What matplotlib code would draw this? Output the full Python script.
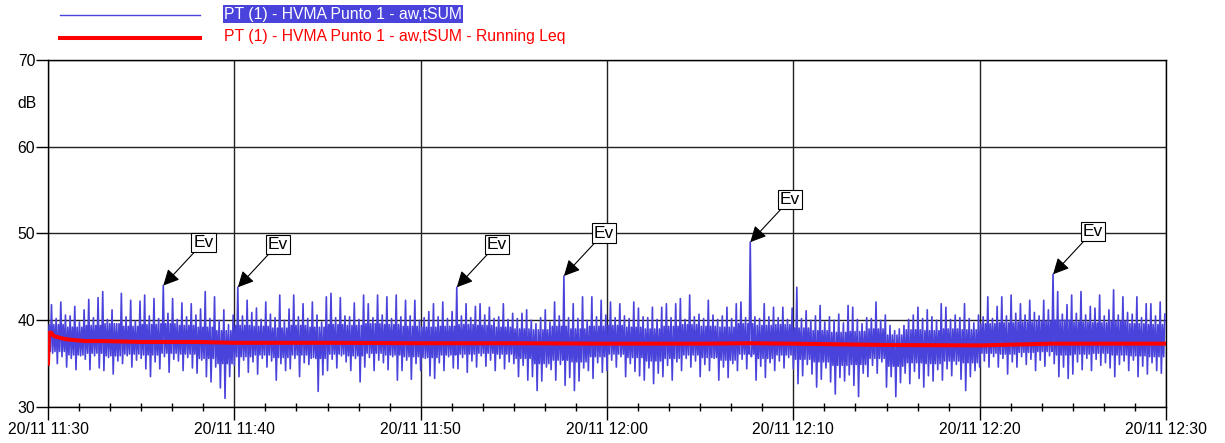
import matplotlib
matplotlib.use("Agg")
import matplotlib.pyplot as plt
from matplotlib.lines import Line2D
from matplotlib.ticker import MultipleLocator, FuncFormatter
import numpy as np

plt.rcParams['font.family'] = ['Liberation Sans', 'DejaVu Sans']

# aw,tSUM peaks (dB), 4 per minute from 11:30, one row per minute
highs = [
    41.8, 40.2, 42.1, 40.6,  40.5, 41.6, 39.8, 41.2,  42.4, 40.3, 42.6, 43.3,
    40.1, 41.2, 39.6, 43.1,  40.4, 42.3, 39.9, 42.2,  42.9, 40.5, 42.5, 40.2,
    44.0, 40.8, 42.5, 40.1,  42.0, 40.4, 41.9, 40.6,  41.3, 43.3, 40.2, 42.7,
    40.0, 41.2, 39.5, 40.6,  43.8, 40.5, 42.3, 40.9,  41.4, 40.1, 42.1, 40.7,
    40.3, 42.9, 40.0, 41.3,  42.9, 40.4, 41.9, 40.2,  42.1, 40.6, 39.8, 42.7,
    43.1, 40.3, 42.6, 40.5,  40.4, 42.0, 40.1, 42.9,  41.9, 40.3, 42.9, 40.6,
    42.7, 40.2, 42.9, 40.4,  42.3, 40.5, 42.3, 40.0,  40.3, 41.0, 41.9, 40.4,
    42.1, 40.2, 41.0, 43.8,  40.5, 41.9, 40.3, 41.6,  41.9, 40.6, 41.5, 40.2,
    40.4, 41.9, 40.1, 40.8,  40.2, 40.8, 41.2, 40.0,  39.6, 40.3, 41.2, 39.8,
    42.1, 40.5, 45.1, 40.3,  41.9, 40.2, 42.7, 40.0,  42.7, 40.4, 42.3, 40.6,
    42.1, 40.3, 41.9, 40.5,  40.2, 42.1, 41.4, 40.4,  40.3, 41.5, 40.1, 41.5,
    41.9, 40.3, 41.9, 42.5,  40.1, 42.9, 40.4, 40.7,  40.2, 42.3, 40.6, 40.1,
    40.5, 41.5, 40.2, 41.9,  42.1, 40.3, 49.0, 40.4,  40.2, 41.9, 40.4, 41.5,
    40.3, 41.5, 40.1, 41.4,  43.8, 40.2, 41.1, 40.0,  40.5, 41.7, 39.8, 40.4,
    40.0, 40.7, 39.7, 41.7,  41.5, 40.1, 39.6, 40.3,  40.2, 42.1, 40.0, 40.6,
    39.4, 38.8, 39.0, 39.4,  40.1, 40.6, 41.5, 40.2,  41.2, 40.4, 40.0, 41.9,
    41.5, 40.1, 40.6, 40.3,  41.9, 40.2, 39.7, 40.6,  40.4, 42.7, 40.2, 41.6,
    42.7, 40.5, 42.9, 40.8,  41.9, 40.6, 42.3, 40.9,  40.5, 42.3, 41.2, 45.3,
    43.3, 40.7, 41.8, 42.9,  40.8, 43.3, 40.6, 41.6,  41.4, 42.9, 40.5, 41.2,
    43.5, 40.6, 42.7, 40.9,  40.7, 42.7, 40.3, 41.9,  41.9, 40.5, 42.1, 40.7,
]
# aw,tSUM troughs (dB), same grid
lows = [
    35.4, 36.2, 35.0, 35.8,  34.6, 35.6, 34.3, 35.9,  35.5, 34.3, 35.9, 34.5,
    34.2, 35.7, 33.8, 35.3,  35.0, 35.9, 34.6, 35.4,  35.6, 34.4, 33.5, 35.2,
    34.4, 35.8, 34.0, 35.5,  35.3, 34.2, 35.7, 34.5,  33.9, 35.4, 33.5, 32.9,
    34.6, 32.2, 31.0, 33.5,  34.8, 33.5, 35.4, 34.0,  35.2, 33.8, 35.6, 34.6,
    35.3, 33.1, 35.0, 34.2,  34.4, 35.6, 33.5, 35.1,  34.9, 35.7, 31.8, 33.7,
    34.2, 35.5, 34.5, 35.9,  35.2, 34.2, 35.6, 32.9,  34.6, 35.7, 34.2, 35.4,
    35.1, 34.3, 35.8, 33.1,  34.2, 35.4, 33.2, 35.0,  34.2, 35.6, 33.6, 33.3,
    35.1, 34.2, 35.8, 34.5,  34.4, 35.7, 34.0, 35.3,  34.6, 35.9, 34.7, 35.4,
    34.2, 35.6, 34.4, 35.2,  35.0, 33.5, 34.8, 33.1,  33.5, 31.9, 33.0, 34.6,
    34.3, 33.1, 34.9, 32.5,  33.4, 31.9, 33.0, 34.5,  34.2, 33.3, 35.1, 34.0,
    34.2, 35.4, 34.6, 35.8,  33.5, 35.0, 34.1, 33.6,  33.1, 34.5, 32.7, 33.9,
    33.5, 34.8, 33.1, 35.2,  34.2, 35.6, 34.6, 35.3,  33.5, 34.9, 34.2, 35.6,
    33.1, 34.6, 33.4, 35.0,  34.2, 35.5, 34.4, 35.8,  33.1, 34.7, 33.4, 35.1,
    34.2, 35.3, 34.5, 35.7,  34.4, 32.7, 33.6, 34.9,  33.8, 32.3, 33.2, 34.5,
    32.9, 31.5, 33.4, 33.0,  33.7, 32.5, 31.2, 33.9,  33.5, 34.8, 33.9, 35.2,
    32.3, 33.5, 31.2, 32.8,  33.9, 32.7, 34.1, 33.3,  32.3, 33.6, 33.0, 34.3,
    33.1, 34.4, 33.6, 34.9,  33.2, 31.9, 33.5, 34.2,  34.6, 35.3, 34.6, 35.8,
    34.6, 35.6, 33.8, 35.2,  34.6, 35.8, 34.9, 35.5,  34.2, 35.4, 34.7, 35.9,
    35.0, 33.5, 34.6, 33.3,  33.8, 35.2, 34.3, 35.6,  34.2, 35.5, 34.8, 35.1,
    34.5, 33.5, 34.9, 35.3,  34.2, 35.4, 33.5, 34.7,  33.8, 35.1, 34.2, 33.9,
]
# top and bottom of the dense band, one value per minute
body_top = [
    39.5, 39.2, 39.4, 39.6, 39.3, 39.5, 39.6, 39.4, 39.2, 38.8,
    39.4, 39.3, 39.1, 39.4, 39.2, 39.5, 39.4, 39.6, 39.5, 39.3,
    39.2, 39.3, 39.5, 39.4, 39.2, 39.0, 38.9, 39.3, 39.0, 39.3,
    39.4, 39.2, 39.0, 39.3, 39.5, 39.3, 39.2, 39.6, 39.4, 39.5,
    39.1, 38.8, 38.6, 38.7, 39.0, 38.3, 38.9, 38.8, 39.0, 38.9,
    39.6, 39.7, 39.8, 39.9, 40.0, 39.8, 39.7, 39.9, 39.6, 39.5,
]
body_bot = [
    36.4, 36.0, 36.2, 35.9, 36.1, 36.0, 36.2, 36.1, 35.6, 35.0,
    35.8, 36.0, 35.7, 36.0, 35.6, 36.1, 35.9, 36.2, 36.0, 35.8,
    35.7, 36.0, 36.1, 36.2, 36.1, 35.6, 35.0, 35.4, 35.2, 35.8,
    36.1, 35.7, 35.3, 35.6, 36.0, 35.7, 35.4, 36.1, 35.6, 36.0,
    35.5, 35.2, 34.8, 34.9, 35.6, 34.7, 35.1, 35.0, 35.3, 35.1,
    36.2, 36.1, 36.3, 36.4, 36.0, 36.1, 36.2, 36.0, 35.9, 35.8,
]

# running Leq (minutes after 11:30, dB)
leq_min = [0, 0.05, 0.15, 0.3, 0.6, 1.0, 1.5, 2, 3, 5, 8, 10, 15, 20, 25,
           30, 35, 37.6, 40, 45, 50, 53.8, 57, 60]
leq_db = [35.0, 38.5, 38.6, 38.2, 38.0, 37.8, 37.7, 37.6, 37.6, 37.5, 37.5,
          37.4, 37.4, 37.35, 37.35, 37.3, 37.3, 37.35, 37.3, 37.15, 37.1,
          37.3, 37.3, 37.3]

# peaks marked with an event flag
ev_idx = [24, 40, 87, 110, 150, 215]

blue = '#4A43DB'
red = '#FF0000'

# each 15 s step: trough, band top, band bottom, peak
n = len(lows)
minute = np.arange(n) // 4
step = np.arange(n) * 0.25
t = np.column_stack([step, step + 0.0625, step + 0.125, step + 0.1875]).ravel()
v = np.column_stack([lows, np.array(body_top)[minute], np.array(body_bot)[minute],
                     highs]).ravel()
t_peak = step + 0.1875

fig = plt.figure(figsize=(12.25, 4.43), dpi=100)
ax = fig.add_axes([48 / 1225, 1 - 407 / 443, 1118 / 1225, 347 / 443])

ax.plot(t, v, color=blue, lw=1.2, zorder=3)
ax.plot(leq_min, leq_db, color=red, lw=2.9, zorder=4)

for i in ev_idx:
    ax.annotate('Ev', xy=(t_peak[i], highs[i]), xytext=(40, 43),
                textcoords='offset pixels', ha='center', va='center',
                fontsize=12.5,
                bbox=dict(boxstyle='square,pad=0.12', fc='white', ec='black', lw=0.8),
                arrowprops=dict(arrowstyle='-|>', color='black', lw=0.8,
                                mutation_scale=24, shrinkA=0, shrinkB=0),
                zorder=6)

def time_label(x, pos):
    m = int(round(x)) + 30
    return f"20/11 {11 + m // 60}:{m % 60:02d}"

ax.set_xlim(0, 60)
ax.set_ylim(30, 70)
ax.xaxis.set_major_locator(MultipleLocator(10))
ax.xaxis.set_minor_locator(MultipleLocator(10 / 6))
ax.xaxis.set_major_formatter(FuncFormatter(time_label))
ax.yaxis.set_major_locator(MultipleLocator(10))
ax.tick_params(axis='x', which='major', direction='out', length=9, width=1,
               labelsize=11.3, pad=2)
ax.tick_params(axis='x', which='minor', direction='inout', length=6, width=1)
ax.tick_params(axis='y', which='major', direction='out', length=8.6, width=1,
               labelsize=11.3, pad=0.5)
ax.grid(which='major', color='#222222', lw=1.0, zorder=1)
ax.set_axisbelow(True)
for s in ax.spines.values():
    s.set_linewidth(1.0)
    s.set_color('black')

ax.text(-0.01, 0.876, 'dB', transform=ax.transAxes, ha='right', va='center',
        fontsize=11.3)

# legend at top
fig.add_artist(Line2D([60 / 1225, 200 / 1225], [1 - 15 / 443] * 2, color=blue, lw=1))
fig.add_artist(Line2D([60 / 1225, 200 / 1225], [1 - 38 / 443] * 2, color=red, lw=2.9))
fig.text(224 / 1225, 1 - 14 / 443, 'PT (1) - HVMA Punto 1 - aw,tSUM', color='white',
         fontsize=11.3, va='center',
         bbox=dict(boxstyle='square,pad=0.08', fc=blue, ec='none'))
fig.text(224 / 1225, 1 - 37 / 443, 'PT (1) - HVMA Punto 1 - aw,tSUM - Running Leq',
         color=red, fontsize=11.3, va='center')

fig.savefig('out.png', dpi=100)
